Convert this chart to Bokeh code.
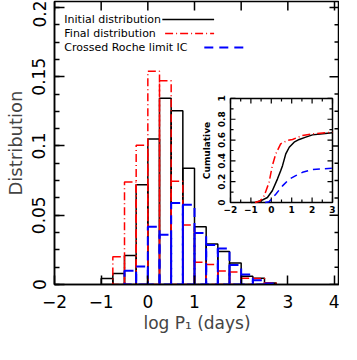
import math
from bokeh.plotting import figure
from bokeh.models import (Range1d, SingleIntervalTicker, CustomJSTickFormatter,
                          Label, ColumnDataSource)
from bokeh.core.properties import value
from bokeh.embed import file_html
from bokeh.resources import INLINE

# ---------------- data ----------------
bin_left = [-1.0, -0.75, -0.5, -0.25, 0.0, 0.25, 0.5, 0.75, 1.0, 1.25, 1.5, 1.75, 2.0, 2.25, 2.5]
bin_width = 0.25
initial = [0.0043, 0.0080, 0.0210, 0.0720, 0.1050, 0.1345, 0.1255, 0.0840, 0.0416, 0.0293,
           0.0239, 0.0156, 0.0060, 0.0045, 0.0010]
final = [0.0, 0.0200, 0.0740, 0.1005, 0.1540, 0.1470, 0.0745, 0.0430, 0.0160, 0.0144,
         0.0097, 0.0090, 0.0045, 0.0043, 0.0010]
crossed = [0.0, 0.0, 0.0100, 0.0130, 0.0416, 0.0360, 0.0588, 0.0576, 0.0372, 0.0285,
           0.0260, 0.0140, 0.0073, 0.0030, 0.0007]

cum_initial_x = [-1.0, -0.75, -0.52, -0.19, 0.05, 0.30, 0.46, 0.55, 0.71, 0.88, 1.12, 1.37, 1.69, 2.02, 2.52, 3.0]
cum_initial_y = [0.0, 0.003, 0.016, 0.048, 0.113, 0.225, 0.306, 0.354, 0.467, 0.531, 0.580, 0.606, 0.628, 0.650, 0.660, 0.670]
cum_final_x = [-0.8, -0.55, -0.35, -0.11, 0.05, 0.22, 0.46, 0.79, 1.04, 1.53, 2.02, 3.0]
cum_final_y = [0.0, 0.015, 0.064, 0.193, 0.354, 0.467, 0.564, 0.596, 0.606, 0.644, 0.660, 0.676]
cum_crossed_x = [-0.3, -0.11, 0.22, 0.55, 0.88, 1.2, 1.53, 2.02, 3.0]
cum_crossed_y = [0.0, 0.007, 0.080, 0.160, 0.225, 0.258, 0.290, 0.316, 0.330]

legend_labels = ["Initial distribution", "Final distribution", "Crossed Roche limit IC"]
x_label = "log P\u2081 (days)"
y_label = "Distribution"
main_x_ticks = [-2, -1, 0, 1, 2, 3, 4]
main_y_ticks = [0, 0.05, 0.1, 0.15, 0.2]
inset_y_label = "Cumulative"
inset_x_ticks = [-2, -1, 0, 1, 2, 3]
inset_x_tick_labels = ["\u22122", "\u22121", "0", "1", "2", "3"]
inset_y_ticks = [0, 0.2, 0.4, 0.6, 0.8, 1.0]
inset_y_tick_labels = ["0", "0.2", "0.4", "0.6", "0.8", "1"]

# ---------------- styles / layout ----------------
FONT = "DejaVu Sans"
BLACK, RED, BLUE = "#000000", "#ff0000", "#0000ff"
DASHDOT = "8 3 1 3"
DASHED = "9 6"
X_MIN, X_MAX = -2, 4.107
Y_MIN, Y_MAX = 0, 0.2043

x_fmt = CustomJSTickFormatter(code="var v=Math.round(tick); return v<0 ? '\u2212'+(-v) : ''+v;")
y_fmt = CustomJSTickFormatter(code="return (Math.round(tick*100)/100).toString();")

p = figure(width=339, height=336, x_range=Range1d(X_MIN, X_MAX), y_range=Range1d(Y_MIN, Y_MAX),
           output_backend="svg", toolbar_location=None,
           min_border_left=54, min_border_right=0, min_border_top=1, min_border_bottom=52)
p.title.visible = False
p.xgrid.visible = False
p.ygrid.visible = False
p.outline_line_color = BLACK
p.outline_line_width = 1.5
p.background_fill_color = "white"
p.border_fill_color = "white"


def style_axis(ax, ticker, fmt, tick_in, minor_in, font_size, vertical=False):
    ax.ticker = ticker
    ax.formatter = fmt
    ax.major_tick_in = tick_in
    ax.major_tick_out = 0
    ax.minor_tick_in = minor_in
    ax.minor_tick_out = 0
    ax.axis_line_width = 1.5
    ax.major_tick_line_width = 1.5
    ax.minor_tick_line_width = 1.5
    ax.axis_line_color = BLACK
    ax.major_tick_line_color = BLACK
    ax.minor_tick_line_color = BLACK
    ax.major_label_text_font = FONT
    ax.major_label_text_color = BLACK
    ax.major_label_text_font_size = font_size
    if vertical:
        ax.major_label_orientation = "vertical"


style_axis(p.xaxis[0], SingleIntervalTicker(interval=1, num_minor_ticks=0), x_fmt, 9, 0, "17px")
p.xaxis[0].major_label_standoff = 10
p.xaxis[0].axis_label = x_label
p.xaxis[0].axis_label_text_font = FONT
p.xaxis[0].axis_label_text_font_size = "17px"
p.xaxis[0].axis_label_text_font_style = "normal"
p.xaxis[0].axis_label_standoff = 2

style_axis(p.yaxis[0], SingleIntervalTicker(interval=0.05, num_minor_ticks=4), y_fmt, 10, 5, "17px",
           vertical=True)
p.yaxis[0].major_label_standoff = 9
p.yaxis[0].axis_label = y_label
p.yaxis[0].axis_label_text_font = FONT
p.yaxis[0].axis_label_text_font_size = "18px"
p.yaxis[0].axis_label_text_font_style = "normal"
p.yaxis[0].axis_label_standoff = 4

# mirrored inward ticks on the top and right frame edges
TOP_TICK = 0.0065                      # ~9 px in y units
RIGHT_MAJ, RIGHT_MIN = 0.214, 0.107    # ~10 px / ~5 px in x units
p.segment(x0=main_x_ticks, x1=main_x_ticks, y0=[Y_MAX] * len(main_x_ticks),
          y1=[Y_MAX - TOP_TICK] * len(main_x_ticks), line_color=BLACK, line_width=1.5)
right_minor = [a + (b - a) * k / 4 for a, b in zip(main_y_ticks[:-1], main_y_ticks[1:]) for k in (1, 2, 3)]
p.segment(x0=[X_MAX] * len(main_y_ticks), x1=[X_MAX - RIGHT_MAJ] * len(main_y_ticks),
          y0=main_y_ticks, y1=main_y_ticks, line_color=BLACK, line_width=1.5)
p.segment(x0=[X_MAX] * len(right_minor), x1=[X_MAX - RIGHT_MIN] * len(right_minor),
          y0=right_minor, y1=right_minor, line_color=BLACK, line_width=1.5)


def hist_source(values):
    lefts = [l for l, v in zip(bin_left, values) if v > 0]
    tops = [v for v in values if v > 0]
    return ColumnDataSource(dict(left=lefts, right=[l + bin_width for l in lefts], top=tops,
                                 bottom=[0] * len(tops)))


p.quad(left="left", right="right", bottom="bottom", top="top", source=hist_source(initial),
       fill_alpha=0, line_color=BLACK, line_width=1.5)
p.quad(left="left", right="right", bottom="bottom", top="top", source=hist_source(final),
       fill_alpha=0, line_color=RED, line_width=1.5, line_dash=DASHDOT)
p.quad(left="left", right="right", bottom="bottom", top="top", source=hist_source(crossed),
       fill_alpha=0, line_color=BLUE, line_width=2, line_dash=DASHED)

# legend (text on left, line sample on right)
LEG_X = -1.79
LEG_Y = [0.1913, 0.1812, 0.1711]
LEG_LINE_X0 = [0.31, 0.37, 1.21]
LEG_LINE_X1 = [1.42, 1.42, 2.08]
leg_colors = [BLACK, RED, BLUE]
leg_dash = ["solid", DASHDOT, DASHED]
leg_width = [1.5, 1.5, 2]
for i, lab in enumerate(legend_labels):
    p.add_layout(Label(x=LEG_X, y=LEG_Y[i], text=lab, text_font=FONT, text_font_size="11px",
                       text_baseline="middle", text_color=BLACK))
    p.segment(x0=[LEG_LINE_X0[i]], x1=[LEG_LINE_X1[i]], y0=[LEG_Y[i]], y1=[LEG_Y[i]],
              line_color=leg_colors[i], line_dash=leg_dash[i], line_width=leg_width[i])

# ---------------- inset (sub-coordinates inside the main frame) ----------------
IX_MIN, IX_MAX, IY_MIN, IY_MAX = -2, 3, 0, 1
INSET_TARGET_X = (1.771, 3.957)   # where the inset box sits, in main data units
INSET_TARGET_Y = (0.0592, 0.1343)
sub = p.subplot(x_source=Range1d(IX_MIN, IX_MAX), y_source=Range1d(IY_MIN, IY_MAX),
                x_target=Range1d(*INSET_TARGET_X), y_target=Range1d(*INSET_TARGET_Y))

sub.quad(left=[IX_MIN], right=[IX_MAX], bottom=[IY_MIN], top=[IY_MAX],
         fill_color="white", line_color=BLACK, line_width=1.5)

TX_MAJ, TX_MIN = 0.048, 0.029    # vertical ticks on x axes (y units)
TY_MAJ, TY_MIN = 0.245, 0.15     # horizontal ticks on y axes (x units)
x_minor = [(a + b) / 2 for a, b in zip(inset_x_ticks[:-1], inset_x_ticks[1:])]
y_minor = [(a + b) / 2 for a, b in zip(inset_y_ticks[:-1], inset_y_ticks[1:])]
for xs, ln in ((inset_x_ticks, TX_MAJ), (x_minor, TX_MIN)):
    sub.segment(x0=xs, x1=xs, y0=[IY_MIN] * len(xs), y1=[IY_MIN + ln] * len(xs),
                line_color=BLACK, line_width=1.2)
    sub.segment(x0=xs, x1=xs, y0=[IY_MAX] * len(xs), y1=[IY_MAX - ln] * len(xs),
                line_color=BLACK, line_width=1.2)
for ys, ln in ((inset_y_ticks, TY_MAJ), (y_minor, TY_MIN)):
    sub.segment(x0=[IX_MIN] * len(ys), x1=[IX_MIN + ln] * len(ys), y0=ys, y1=ys,
                line_color=BLACK, line_width=1.2)
    sub.segment(x0=[IX_MAX] * len(ys), x1=[IX_MAX - ln] * len(ys), y0=ys, y1=ys,
                line_color=BLACK, line_width=1.2)

sub.text(x=inset_x_ticks, y=[IY_MIN - 0.065] * len(inset_x_ticks), text=inset_x_tick_labels,
         text_font=value(FONT), text_font_size="9px", text_font_style="bold",
         text_align="center", text_baseline="middle", text_color=BLACK)
sub.text(x=[IX_MIN - 0.25] * len(inset_y_ticks), y=inset_y_ticks, text=inset_y_tick_labels,
         text_font=value(FONT), text_font_size="9px", text_font_style="bold",
         text_align="center", text_baseline="bottom", angle=math.pi / 2, text_color=BLACK)
sub.text(x=[IX_MIN - 0.93], y=[(IY_MIN + IY_MAX) / 2], text=[inset_y_label],
         text_font=value(FONT), text_font_size="9px", text_font_style="bold",
         text_align="center", text_baseline="bottom", angle=math.pi / 2, text_color=BLACK)

sub.line(cum_initial_x, cum_initial_y, line_color=BLACK, line_width=1.5)
sub.line(cum_final_x, cum_final_y, line_color=RED, line_width=1.5, line_dash=DASHDOT)
sub.line(cum_crossed_x, cum_crossed_y, line_color=BLUE, line_width=1.5, line_dash="7 5")

open("out.html", "w").write(file_html(p, INLINE))
